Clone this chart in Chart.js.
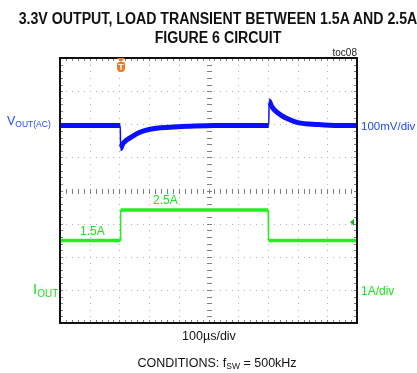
<!DOCTYPE html>
<html>
<head>
<meta charset="utf-8">
<script src="https://cdn.jsdelivr.net/npm/chart.js@4.4.1/dist/chart.umd.min.js"></script>
<style>
  html, body { margin: 0; padding: 0; background: #fff; }
  #wrap { position: relative; width: 417px; height: 373px; overflow: hidden; }
  #scope { position: absolute; left: 0; top: 0; }
  .lbl { position: absolute; white-space: nowrap; line-height: 1; font-family: "Liberation Sans", Arial, sans-serif; }
  .lbl sub { font-size: 0.68em; vertical-align: -0.25em; line-height: 1; }
  .title { font-family: "Liberation Sans", Arial, sans-serif; font-weight: bold; font-size: 16px; left: 218px; transform: translateX(-50%) scaleX(0.885); color: #111; }
  .blue { color: #1f48ff; }
  .green { color: #22e022; }
  #trig { position: absolute; left: 117px; top: 62px; width: 8px; height: 10px; background: #f07a22; border-radius: 2px 2px 4px 4px; color: #fff; font: bold 9px "Liberation Sans", Arial, sans-serif; text-align: center; line-height: 10px; }
  #trig:before { content: ""; position: absolute; left: 0; top: -4px; border-left: 4px solid transparent; border-right: 4px solid transparent; border-top: 4px solid #f07a22; }
</style>
</head>
<body>
<div id="wrap">
  <canvas id="scope" width="417" height="373"></canvas>
  <div class="lbl title" style="top:11px">3.3V OUTPUT, LOAD TRANSIENT BETWEEN 1.5A AND 2.5A</div>
  <div class="lbl title" style="top:29.5px">FIGURE 6 CIRCUIT</div>
  <div class="lbl" style="top:47.5px; left:307px; width:50px; text-align:right; font-size:10px; color:#222">toc08</div>
  <div id="trig">T</div>
  <div class="lbl blue" style="top:115px; left:7px; font-size:12.5px">V<sub>OUT(AC)</sub></div>
  <div class="lbl blue" style="top:121px; left:361px; font-size:11.5px">100mV/div</div>
  <div class="lbl green" style="top:193.5px; left:153px; font-size:12px">2.5A</div>
  <div class="lbl green" style="top:224.5px; left:80px; font-size:12px">1.5A</div>
  <div class="lbl green" style="top:280.5px; left:33px; font-size:15px">I<sub style="font-size:10px">OUT</sub></div>
  <div class="lbl green" style="top:284.5px; left:361px; font-size:12px">1A/div</div>
  <div class="lbl" style="top:330px; left:150px; width:118px; text-align:center; font-size:12.5px; color:#111">100µs/div</div>
  <div class="lbl" style="top:356.5px; left:117px; width:200px; text-align:center; font-size:12.5px; color:#111">CONDITIONS: f<sub>SW</sub> = 500kHz</div>
</div>
<script>
// scope settings
const timeDivUs = 100;
const xDivs = 10;
const yDivs = 8;
const mvPerDiv = 100;
const ampPerDiv = 1;
const voutZeroDiv = 1.96;   // where the AC-coupled output trace sits
const ioutZeroDiv = -3;     // 0A position of the current trace

// VOUT(AC), mV deviation
const voutTimeUs = [0, 203, 204, 210, 220, 236, 269, 303, 370, 440, 520, 703, 704, 712, 723, 745, 768, 801, 869, 936, 1000];
const voutMv = [0, 0, -70, -57, -47, -37, -20, -11, -5, -2, 0, 0, 74, 59, 46, 31, 20, 9, 3, 0, 0];

// IOUT, amps
const ioutTimeUs = [0, 203, 204, 701, 702, 1000];
const ioutA = [1.49, 1.49, 2.41, 2.41, 1.49, 1.49];
const triggerLevelA = 2.04;

const voutPoints = voutTimeUs.map((t, i) => ({ x: t, y: voutZeroDiv + voutMv[i] / mvPerDiv }));
const ioutPoints = ioutTimeUs.map((t, i) => ({ x: t, y: ioutZeroDiv + ioutA[i] / ampPerDiv }));

// edges are drawn thin, like the scope does
const edgeWidth = (thick) => (c) => (c.p1.parsed.x - c.p0.parsed.x <= 1 ? 1.5 : thick);

// dotted graticule, centre ticks and frame
const graticule = {
  id: 'graticule',
  beforeDatasetsDraw(chart) {
    const { ctx, chartArea: a, scales: { x, y } } = chart;
    const xMax = xDivs * timeDivUs;
    ctx.save();
    ctx.fillStyle = '#b0b0b0';
    for (let k = 1; k < xDivs; k++) {
      const px = Math.round(x.getPixelForValue(k * timeDivUs));
      for (let j = 1; j < yDivs * 5; j++) {
        const py = Math.round(y.getPixelForValue(-yDivs / 2 + j * 0.2));
        ctx.fillRect(px, py, 1, 1);
      }
    }
    for (let k = 1; k < yDivs; k++) {
      const py = Math.round(y.getPixelForValue(-yDivs / 2 + k));
      for (let j = 1; j < xDivs * 5; j++) {
        const px = Math.round(x.getPixelForValue(j * timeDivUs / 5));
        ctx.fillRect(px, py, 1, 1);
      }
    }
    // minor ticks on centre lines and frame
    ctx.fillStyle = '#808080';
    const cx = Math.round(x.getPixelForValue(xMax / 2));
    const cy = Math.round(y.getPixelForValue(0));
    for (let j = 1; j < yDivs * 5; j++) {
      const py = Math.round(y.getPixelForValue(-yDivs / 2 + j * 0.2));
      ctx.fillRect(cx - 2, py, 5, 1);
      ctx.fillRect(a.left, py, 3, 1);
      ctx.fillRect(a.right - 3, py, 3, 1);
    }
    for (let j = 1; j < xDivs * 5; j++) {
      const px = Math.round(x.getPixelForValue(j * timeDivUs / 5));
      ctx.fillRect(px, cy - 2, 1, 5);
      ctx.fillRect(px, a.top, 1, 3);
      ctx.fillRect(px, a.bottom - 3, 1, 3);
    }
    ctx.restore();
  },
  afterDatasetsDraw(chart) {
    const { ctx, chartArea: a, scales: { y } } = chart;
    ctx.save();
    ctx.strokeStyle = '#111';
    ctx.lineWidth = 2;
    ctx.strokeRect(a.left, a.top, a.right - a.left, a.bottom - a.top);
    // trigger level arrow
    const ty = y.getPixelForValue(ioutZeroDiv + triggerLevelA / ampPerDiv);
    ctx.fillStyle = '#22b022';
    ctx.beginPath();
    ctx.moveTo(a.right - 7, ty);
    ctx.lineTo(a.right - 3, ty - 3.5);
    ctx.lineTo(a.right - 3, ty + 3.5);
    ctx.closePath();
    ctx.fill();
    ctx.restore();
  }
};

new Chart(document.getElementById('scope'), {
  type: 'line',
  data: {
    datasets: [
      {
        label: 'VOUT(AC)',
        data: voutPoints,
        borderColor: '#0a10ff',
        borderWidth: 5,
        pointRadius: 0,
        cubicInterpolationMode: 'monotone',
        segment: { borderWidth: edgeWidth(5) }
      },
      {
        label: 'IOUT',
        data: ioutPoints,
        borderColor: '#22ee22',
        borderWidth: 3.5,
        pointRadius: 0,
        tension: 0,
        segment: { borderWidth: edgeWidth(3.5) }
      }
    ]
  },
  options: {
    responsive: false,
    animation: false,
    devicePixelRatio: 1,
    layout: { padding: { left: 60, right: 60, top: 58, bottom: 50 } },
    plugins: { legend: { display: false }, tooltip: { enabled: false } },
    scales: {
      x: { type: 'linear', min: 0, max: xDivs * timeDivUs, display: false },
      y: { min: -yDivs / 2, max: yDivs / 2, display: false }
    }
  },
  plugins: [graticule]
});
</script>
</body>
</html>
